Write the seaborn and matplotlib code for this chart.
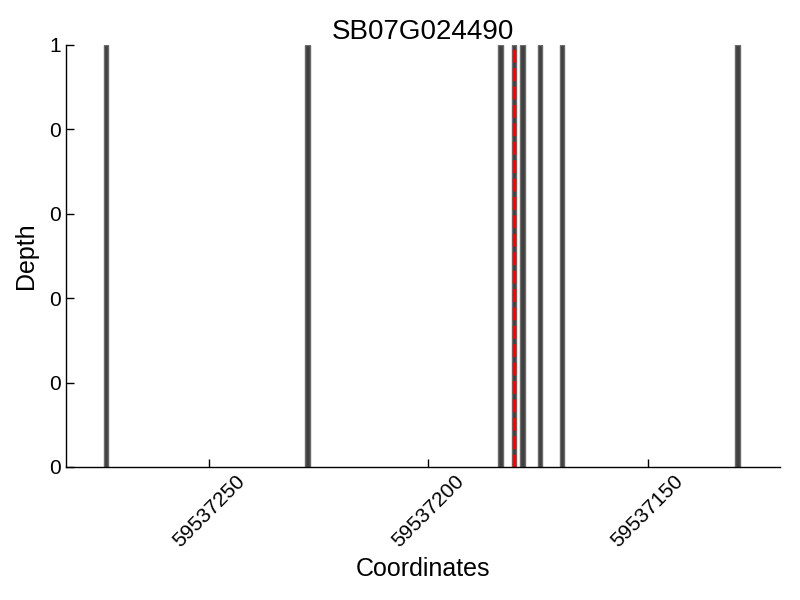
import numpy as np
import pandas as pd
import matplotlib
matplotlib.use("Agg")
import matplotlib.pyplot as plt
import matplotlib.ticker as mticker
import seaborn as sns

# read positions (bar centres) and depth values off the picture
coords = [59537273.5, 59537227.5, 59537183.5, 59537180.5, 59537178.5,
          59537174.5, 59537169.5, 59537129.5]
depth = [1, 1, 1, 1, 1, 1, 1, 1]
snp_pos = 59537180.5
gene = "SB07G024490"

df = pd.DataFrame({"coord": coords, "depth": depth})

sns.set_style("ticks")
plt.rcParams['font.family'] = ['Liberation Sans', 'DejaVu Sans']
plt.rcParams['text.color'] = 'black'
plt.rcParams['axes.labelcolor'] = 'black'

fig = plt.figure(figsize=(8, 6), dpi=100)
ax = fig.add_axes([0.0825, 0.2217, 0.8925, 0.7033])

sns.barplot(data=df, x="coord", y="depth", native_scale=True, width=0.5,
            color="#404040", edgecolor="#6a6a6a", linewidth=1,
            saturation=1, ax=ax)
ax.axvline(snp_pos, color="red", linestyle="--", linewidth=2.5)

ax.set_xlim(59537282.6, 59537119.8)
ax.set_ylim(0, 1)
ax.xaxis.set_major_locator(mticker.MultipleLocator(50))
ax.xaxis.set_major_formatter(mticker.FuncFormatter(lambda v, p: "%d" % round(v)))
ax.yaxis.set_major_locator(mticker.MultipleLocator(0.2))
ax.yaxis.set_major_formatter(mticker.FuncFormatter(lambda v, p: "%d" % v))
ax.tick_params(direction="in", labelsize=15, length=6, width=1,
               colors="black", labelcolor="black")
plt.setp(ax.get_xticklabels(), rotation=45, ha="center")

for s in ["top", "right"]:
    ax.spines[s].set_visible(False)
for s in ["left", "bottom"]:
    ax.spines[s].set_color("black")
    ax.spines[s].set_linewidth(1)

ax.set_title(gene, fontsize=20, pad=4, color="black")
ax.set_xlabel("Coordinates", fontsize=18, color="black")
ax.set_ylabel("Depth", fontsize=18, color="black", labelpad=8)

fig.savefig("out.png", dpi=100)
